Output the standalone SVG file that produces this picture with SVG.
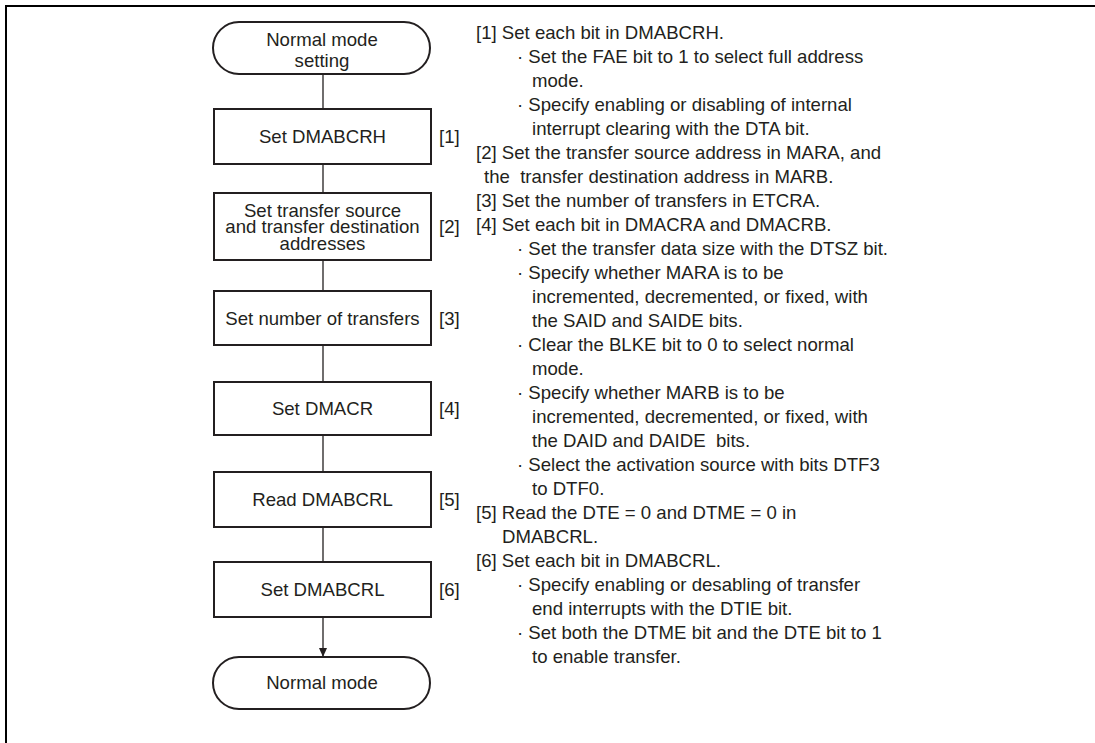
<svg xmlns="http://www.w3.org/2000/svg" width="1095" height="743" viewBox="0 0 1095 743">
<style>
.t{font-family:"Liberation Sans",Arial,sans-serif;font-size:18.6px;fill:#231f20}
.c{text-anchor:middle}
.b{fill:#fff;stroke:#231f20;stroke-width:2}
.ln{stroke:#231f20;stroke-width:1.3;fill:none}
</style>
<defs>
<marker id="ah" markerWidth="10" markerHeight="8" refX="9" refY="4" orient="auto" markerUnits="userSpaceOnUse">
<path d="M0,0 L9,4 L0,8 Z" fill="#231f20"/>
</marker>
</defs>
<rect width="1095" height="743" fill="#fff"/>
<path d="M6,743 V6 H1095" fill="none" stroke="#000" stroke-width="2"/>

<g id="connectors">
<line class="ln" x1="323" y1="74" x2="323" y2="109"/>
<line class="ln" x1="323" y1="164" x2="323" y2="193"/>
<line class="ln" x1="323" y1="260" x2="323" y2="291"/>
<line class="ln" x1="323" y1="345" x2="323" y2="382"/>
<line class="ln" x1="323" y1="435" x2="323" y2="472"/>
<line class="ln" x1="323" y1="527" x2="323" y2="562"/>
<line class="ln" x1="323" y1="617" x2="323" y2="657" marker-end="url(#ah)"/>
</g>

<g id="start">
<rect class="b" x="213" y="22" width="217" height="52" rx="26" ry="26"/>
<text class="t c" x="322" y="46">Normal mode</text>
<text class="t c" x="322" y="67">setting</text>
</g>

<g id="step1">
<rect class="b" x="214" y="109" width="217" height="55"/>
<text class="t c" x="322.5" y="143">Set DMABCRH</text>
<text class="t" x="439" y="143">[1]</text>
</g>

<g id="step2">
<rect class="b" x="214" y="193" width="217" height="67"/>
<text class="t c" x="322.5" y="216.5">Set transfer source</text>
<text class="t c" x="322.5" y="233">and transfer destination</text>
<text class="t c" x="322.5" y="249.5">addresses</text>
<text class="t" x="439" y="233">[2]</text>
</g>

<g id="step3">
<rect class="b" x="214" y="291" width="217" height="54"/>
<text class="t c" x="322.5" y="325">Set number of transfers</text>
<text class="t" x="439" y="325">[3]</text>
</g>

<g id="step4">
<rect class="b" x="214" y="382" width="217" height="53"/>
<text class="t c" x="322.5" y="415">Set DMACR</text>
<text class="t" x="439" y="415">[4]</text>
</g>

<g id="step5">
<rect class="b" x="214" y="472" width="217" height="55"/>
<text class="t c" x="322.5" y="506">Read DMABCRL</text>
<text class="t" x="439" y="506">[5]</text>
</g>

<g id="step6">
<rect class="b" x="214" y="562" width="217" height="55"/>
<text class="t c" x="322.5" y="596">Set DMABCRL</text>
<text class="t" x="439" y="596">[6]</text>
</g>

<g id="end">
<rect class="b" x="213" y="657" width="217" height="52" rx="26" ry="26"/>
<text class="t c" x="322" y="689">Normal mode</text>
</g>

<g id="notes" class="t">
<text x="476" y="39">[1] Set each bit in DMABCRH.</text>
<text x="517" y="63">· Set the FAE bit to 1 to select full address</text>
<text x="532" y="87">mode.</text>
<text x="517" y="111">· Specify enabling or disabling of internal</text>
<text x="532" y="135">interrupt clearing with the DTA bit.</text>
<text x="476" y="159">[2] Set the transfer source address in MARA, and</text>
<text x="484" y="183" xml:space="preserve">the  transfer destination address in MARB.</text>
<text x="476" y="207">[3] Set the number of transfers in ETCRA.</text>
<text x="476" y="231">[4] Set each bit in DMACRA and DMACRB.</text>
<text x="517" y="255">· Set the transfer data size with the DTSZ bit.</text>
<text x="517" y="279">· Specify whether MARA is to be</text>
<text x="532" y="303">incremented, decremented, or fixed, with</text>
<text x="532" y="327">the SAID and SAIDE bits.</text>
<text x="517" y="351">· Clear the BLKE bit to 0 to select normal</text>
<text x="532" y="375">mode.</text>
<text x="517" y="399">· Specify whether MARB is to be</text>
<text x="532" y="423">incremented, decremented, or fixed, with</text>
<text x="532" y="447" xml:space="preserve">the DAID and DAIDE  bits.</text>
<text x="517" y="471">· Select the activation source with bits DTF3</text>
<text x="532" y="495">to DTF0.</text>
<text x="476" y="519">[5] Read the DTE = 0 and DTME = 0 in</text>
<text x="502" y="543">DMABCRL.</text>
<text x="476" y="567">[6] Set each bit in DMABCRL.</text>
<text x="517" y="591">· Specify enabling or desabling of transfer</text>
<text x="532" y="615">end interrupts with the DTIE bit.</text>
<text x="517" y="639">· Set both the DTME bit and the DTE bit to 1</text>
<text x="532" y="663">to enable transfer.</text>
</g>
</svg>
